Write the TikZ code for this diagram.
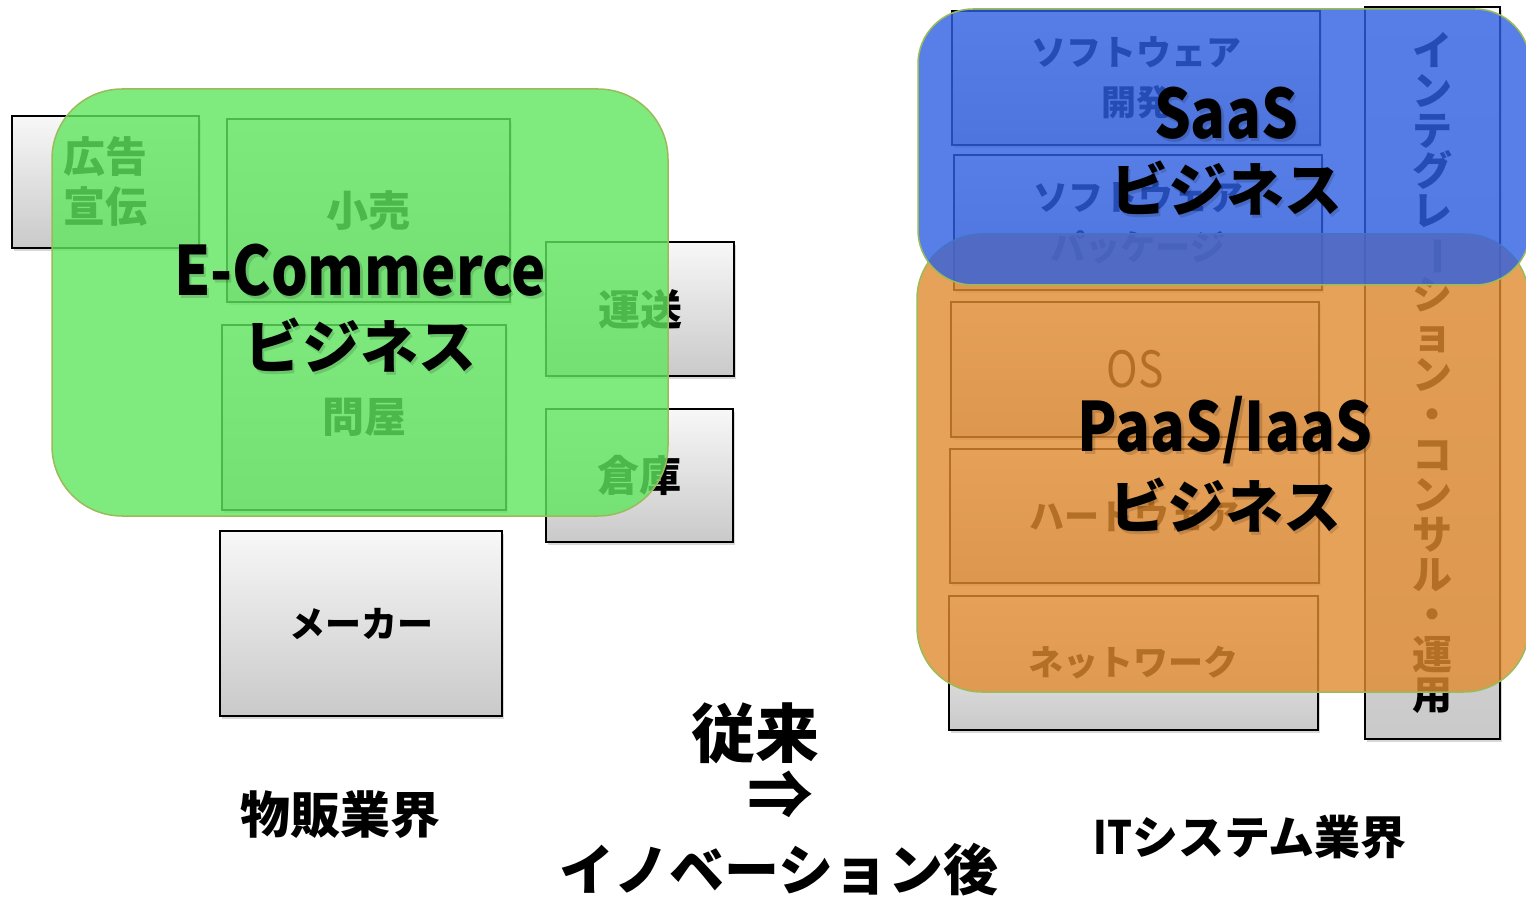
\documentclass[tikz,border=0pt]{standalone}
\usepackage{fontspec}
\setmainfont{Noto Sans CJK JP}
\newfontfamily\latn{Noto Sans CJK JP}[FakeStretch=0.85]
\usetikzlibrary{shadows}
\definecolor{grnfill}{RGB}{95,230,95}
\definecolor{bluefill}{RGB}{46,96,226}
\definecolor{orgfill}{RGB}{226,139,49}
\definecolor{olivee}{RGB}{155,187,89}
\tikzset{
  graybox/.style={draw=black, line width=1.8pt, top color=gray!6, bottom color=gray!42,
    minimum width=#1, inner sep=0pt, align=center,
    drop shadow={opacity=0.3, shadow xshift=1.5pt, shadow yshift=-3pt}},
  gtxt/.style={font=\fontsize{42}{50}\selectfont\bfseries},
  rtxt/.style={font=\fontsize{35}{50}\selectfont\bfseries},
  panel/.style={draw=olivee, line width=1.5pt, fill=#1, fill opacity=0.8, inner sep=0pt},
  biglbl/.style={font=\fontsize{58}{60}\selectfont\bfseries, text=black, inner sep=0pt},
  biglat/.style={font=\latn\fontsize{68}{70}\selectfont\bfseries, text=black, inner sep=0pt},
  shd/.style={text=black, text opacity=0.14, inner sep=0pt},
  caption/.style={font=\fontsize{50}{56}\selectfont\bfseries, text=black, inner sep=0pt}
}
\begin{document}
\begin{tikzpicture}[x=1pt,y=-1pt]
\useasboundingbox (0,0) rectangle (1526,901);
\clip (0,0) rectangle (1526,901);
\fill[white] (0,0) rectangle (1526,901);
% ---------------- left: gray boxes
\node[graybox=187pt, minimum height=132pt, gtxt] (ad) at (105.5,182) {広告\\宣伝};
\node[graybox=283pt, minimum height=183pt, gtxt] (retail) at (368.5,210.5) {小売};
\node[graybox=284pt, minimum height=185pt, gtxt] (whole) at (364,417.5) {問屋};
\node[graybox=188pt, minimum height=134pt, gtxt] (trans) at (640,309) {運送};
\node[graybox=187pt, minimum height=133pt, gtxt] (store) at (639.5,475.5) {倉庫};
\node[graybox=282pt, minimum height=185pt, font=\fontsize{36}{40}\selectfont\bfseries] (maker) at (361,623.5) {メーカー};
% green panel
\node[panel=grnfill, rounded corners=70pt, minimum width=616pt, minimum height=427pt] (ecom) at (360,302.5) {};
\node[shd, font=\latn\fontsize{68}{70}\selectfont\bfseries] (ecs1) at (362.5,273) {E-Commerce};
\node[shd, font=\fontsize{58}{60}\selectfont\bfseries] (ecs2) at (362.5,348) {ビジネス};
\node[biglat] (ecl1) at (360,270) {E-Commerce};
\node[biglbl] (ecl2) at (360,345) {ビジネス};
% ---------------- right: gray boxes
\node[graybox=368pt, minimum height=134pt, rtxt] (swdev) at (1136,78) {ソフトウェア\\開発};
\node[graybox=368pt, minimum height=135pt, rtxt] (swpkg) at (1138,222.5) {ソフトウェア\\パッケージ};
\node[graybox=368pt, minimum height=135pt, font=\latn\fontsize{50}{50}\selectfont] (os) at (1135,369.5) {OS};
\node[graybox=369pt, minimum height=134pt, rtxt] (hw) at (1134.5,516) {ハードウェア};
\node[graybox=369pt, minimum height=134pt, rtxt] (nw) at (1133.5,663) {ネットワーク};
\node[graybox=135pt, minimum height=732pt, font=\fontsize{40}{40}\selectfont\bfseries] (integ) at (1432.5,373)
  {イ\\ン\\テ\\グ\\レ\\\rotatebox[origin=c]{-90}{ー}\\シ\\ョ\\ン\\・\\コ\\ン\\サ\\ル\\・\\運\\用};
% orange and blue panels
\node[panel=orgfill, rounded corners=65pt, minimum width=612pt, minimum height=458pt] (paas) at (1223,463) {};
\node[panel=bluefill, rounded corners=55pt, minimum width=612pt, minimum height=276pt] (saas) at (1224,147) {};
\node[shd, font=\latn\fontsize{68}{70}\selectfont\bfseries] (sas1) at (1228.5,116) {SaaS};
\node[shd, font=\fontsize{58}{60}\selectfont\bfseries] (sas2) at (1228.5,191) {ビジネス};
\node[biglat] (sal1) at (1226,113) {SaaS};
\node[biglbl] (sal2) at (1226,188) {ビジネス};
\node[shd, font=\latn\fontsize{68}{70}\selectfont\bfseries] (pas1) at (1227.5,433) {PaaS/IaaS};
\node[shd, font=\fontsize{58}{60}\selectfont\bfseries] (pas2) at (1227.5,508) {ビジネス};
\node[biglat] (pal1) at (1225,430) {PaaS/IaaS};
\node[biglbl] (pal2) at (1225,505) {ビジネス};
% ---------------- captions
\node[caption] (butsu) at (340,815) {物販業界};
\node[caption, font=\fontsize{46}{50}\selectfont\bfseries] (itsys) at (1250,837) {{\latn IT}システム業界};
\node[caption, font=\fontsize{64}{66}\selectfont\bfseries] (jurai) at (755,733) {従来};
\node[caption, font=\fontsize{66}{66}\selectfont\bfseries] (arr) at (780,795) {⇒};
\node[caption, font=\fontsize{55}{60}\selectfont\bfseries] (innov) at (779,870) {イノベーション後};
\end{tikzpicture}
\end{document}
